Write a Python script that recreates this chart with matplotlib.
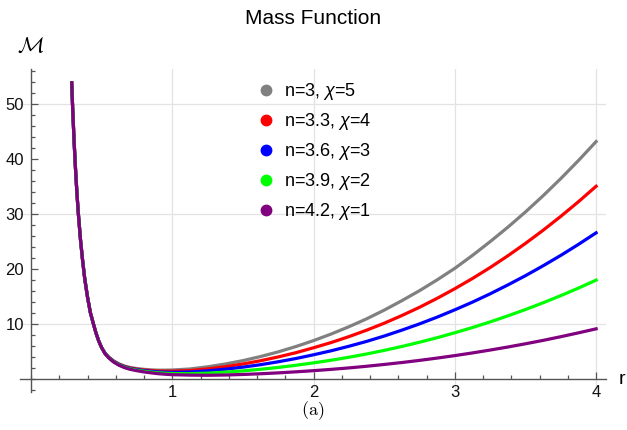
import matplotlib
matplotlib.use("Agg")
import matplotlib.pyplot as plt
from matplotlib.lines import Line2D
from matplotlib.ticker import FixedLocator, MultipleLocator

plt.rcParams["font.family"] = ["Liberation Sans", "DejaVu Sans"]
plt.rcParams["mathtext.fontset"] = "custom"
plt.rcParams["mathtext.rm"] = "Liberation Sans"
plt.rcParams["mathtext.it"] = "Liberation Sans:italic"

# steep branch shared by all curves
r_left = [0.288, 0.295, 0.305, 0.315, 0.325, 0.335, 0.35, 0.365, 0.38, 0.40,
          0.42, 0.441, 0.46, 0.48, 0.50]
m_left = [53.8, 49.0, 43.1, 38.1, 33.7, 30.0, 25.3, 21.5, 18.2, 14.8,
          12.0, 10.0, 8.27, 6.77, 5.61]

# right-hand part, one list per curve
r_right = [0.524, 0.55, 0.582, 0.62, 0.66, 0.70, 0.75, 0.80, 0.85, 0.90, 0.95, 1.0,
           1.125, 1.25, 1.375, 1.5, 1.625, 1.75, 1.875, 2.0, 2.125, 2.25, 2.375, 2.5,
           2.625, 2.75, 2.875, 3.0, 3.125, 3.25, 3.375, 3.5, 3.625, 3.75, 3.875, 4.0]
m_gray = [4.65, 3.92, 3.25, 2.69, 2.28, 2.01, 1.81, 1.67, 1.58, 1.52, 1.53, 1.55,
          1.74, 2.13, 2.64, 3.26, 4.0, 4.85, 5.82, 6.9, 8.1, 9.42, 10.85, 12.44,
          14.16, 15.98, 17.95, 20.05, 22.4, 24.9, 27.52, 30.3, 33.25, 36.37, 39.65, 43.1]
m_red = [4.61, 3.88, 3.2, 2.63, 2.21, 1.93, 1.71, 1.55, 1.44, 1.36, 1.34, 1.34,
         1.45, 1.75, 2.15, 2.65, 3.24, 3.93, 4.7, 5.6, 6.55, 7.62, 8.79, 10.06,
         11.46, 12.96, 14.59, 16.34, 18.2, 20.19, 22.32, 24.58, 26.97, 29.5, 32.16, 34.97]
m_blue = [4.57, 3.84, 3.15, 2.57, 2.14, 1.84, 1.62, 1.43, 1.31, 1.2, 1.15, 1.13,
          1.19, 1.4, 1.7, 2.07, 2.52, 3.05, 3.64, 4.32, 5.05, 5.87, 6.75, 7.73,
          8.8, 9.94, 11.17, 12.5, 13.9, 15.41, 17.02, 18.71, 20.51, 22.4, 24.4, 26.5]
m_green = [4.54, 3.79, 3.1, 2.51, 2.07, 1.76, 1.52, 1.32, 1.17, 1.04, 0.97, 0.91,
           0.88, 0.98, 1.16, 1.39, 1.68, 2.02, 2.41, 2.85, 3.33, 3.87, 4.46, 5.12,
           5.83, 6.6, 7.43, 8.33, 9.28, 10.3, 11.4, 12.55, 13.78, 15.08, 16.45, 17.9]
m_purple = [4.5, 3.75, 3.05, 2.45, 2.0, 1.68, 1.42, 1.2, 1.03, 0.88, 0.78, 0.7,
            0.62, 0.59, 0.64, 0.74, 0.87, 1.03, 1.22, 1.43, 1.67, 1.93, 2.23, 2.56,
            2.91, 3.3, 3.72, 4.17, 4.66, 5.18, 5.73, 6.32, 6.94, 7.61, 8.31, 9.04]

labels = [r"n=3, $\chi$=5", r"n=3.3, $\chi$=4", r"n=3.6, $\chi$=3",
          r"n=3.9, $\chi$=2", r"n=4.2, $\chi$=1"]
colors = ["#808080", "#ff0000", "#0000ff", "#00ff00", "#800080"]
series = [m_gray, m_red, m_blue, m_green, m_purple]

fig = plt.figure(figsize=(6.27, 4.30), dpi=100)
ax = fig.add_axes([20 / 627, 38 / 430, 586 / 627, 323 / 430])

for v in [1, 2, 3, 4]:
    ax.axvline(v, color="#e3e3e3", lw=0.9, zorder=0)
for v in [10, 30, 50]:
    ax.axhline(v, color="#e3e3e3", lw=0.9, zorder=0)

for vals, c in zip(series, colors):
    ax.plot(r_left + r_right, m_left + vals, color=c, lw=2.3, zorder=3)

ax.set_xlim(-0.078, 4.07)
ax.set_ylim(-2.45, 56.3)

for s in ["top", "right"]:
    ax.spines[s].set_visible(False)
ax.spines["left"].set_position(("data", 0))
ax.spines["bottom"].set_position(("data", 0))
for s in ["left", "bottom"]:
    ax.spines[s].set_color("#555555")
    ax.spines[s].set_linewidth(1.0)

ax.xaxis.set_major_locator(FixedLocator([1, 2, 3, 4]))
ax.xaxis.set_minor_locator(MultipleLocator(0.2))
ax.yaxis.set_major_locator(FixedLocator([10, 20, 30, 40, 50]))
ax.yaxis.set_minor_locator(MultipleLocator(2))
ax.tick_params(which="both", direction="in", color="#555555", width=0.9,
               labelsize=12, labelcolor="#111111")
ax.tick_params(which="major", length=5)
ax.tick_params(which="minor", length=3)
ax.tick_params(axis="x", pad=5)
ax.tick_params(axis="y", pad=5)

handles = [Line2D([], [], ls="", marker="o", ms=7.5, color=c) for c in colors]
fig.legend(handles, labels, loc="upper left", bbox_to_anchor=(257 / 627, 1 - 81 / 430),
           frameon=False, fontsize=13, borderpad=0, borderaxespad=0,
           handlelength=1.0, handletextpad=0.5, labelspacing=0.5)

fig.text(313 / 627, 1 - 18 / 430, "Mass Function", ha="center", va="center", fontsize=15)
fig.text(30 / 627, 1 - 47 / 430, r"$\mathcal{M}$", ha="center", va="center",
         fontsize=16, math_fontfamily="cm")
fig.text(622 / 627, 1 - 380 / 430, "r", ha="center", va="center", fontsize=14)
fig.text(313 / 627, 1 - 411 / 430, r"$\mathrm{(a)}$", ha="center", va="center",
         fontsize=13, math_fontfamily="cm")

fig.savefig("out.png", dpi=100)
